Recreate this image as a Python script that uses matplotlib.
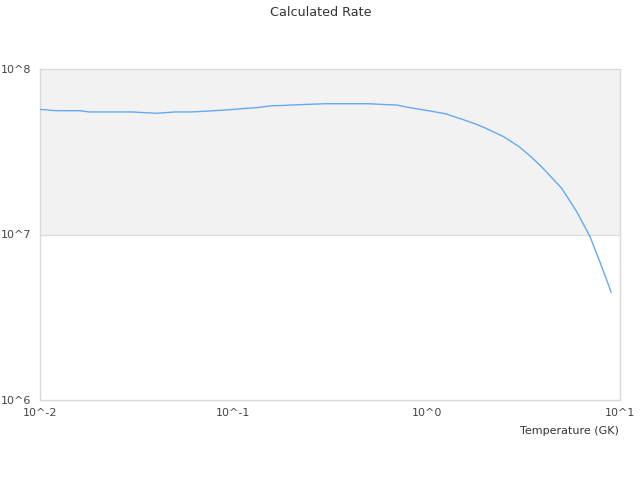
import matplotlib
matplotlib.use("Agg")
import matplotlib.pyplot as plt
from matplotlib.ticker import FixedLocator, FixedFormatter, NullLocator

# Data
temperature = [0.01, 0.011, 0.012, 0.013, 0.014, 0.015, 0.016, 0.018, 0.02, 0.025,
               0.03, 0.04, 0.05, 0.06, 0.07, 0.08, 0.09, 0.1, 0.11, 0.12,
               0.13, 0.14, 0.15, 0.16, 0.18, 0.2, 0.25, 0.3, 0.35, 0.4,
               0.45, 0.5, 0.6, 0.7, 0.8, 0.9, 1.0, 1.25, 1.5, 1.75,
               2.0, 2.5, 3.0, 3.5, 4.0, 5.0, 6.0, 7.0, 8.0, 9.0]
rate = [5.7e7, 5.65e7, 5.6e7, 5.6e7, 5.6e7, 5.6e7, 5.6e7, 5.5e7, 5.5e7, 5.5e7,
        5.5e7, 5.4e7, 5.5e7, 5.5e7, 5.55e7, 5.6e7, 5.65e7, 5.7e7, 5.75e7, 5.8e7,
        5.83e7, 5.89e7, 5.95e7, 6.0e7, 6.02e7, 6.06e7, 6.12e7, 6.17e7, 6.17e7, 6.17e7,
        6.17e7, 6.17e7, 6.1e7, 6.06e7, 5.87e7, 5.73e7, 5.62e7, 5.37e7, 5.0e7, 4.7e7,
        4.41e7, 3.9e7, 3.4e7, 2.92e7, 2.51e7, 1.9e7, 1.36e7, 9.7e6, 6.5e6, 4.48e6]

x_ticks = [0.01, 0.1, 1, 10]
x_labels = ["10^-2", "10^-1", "10^0", "10^1"]
y_ticks = [1e6, 1e7, 1e8]
y_labels = ["10^6", "10^7", "10^8"]

title = "Calculated Rate"
x_title = "Temperature (GK)"

plt.rcParams['font.family'] = ['DejaVu Sans']
fig = plt.figure(figsize=(6.4, 4.8), dpi=100)
ax = fig.add_axes([40/640, 80/480, 580/640, 331/480])

ax.set_xscale('log')
ax.set_yscale('log')
ax.set_xlim(x_ticks[0], x_ticks[-1])
ax.set_ylim(y_ticks[0], y_ticks[-1])

# alternating band
ax.axhspan(y_ticks[1], y_ticks[2], color='#f2f2f2', zorder=0, lw=0)
ax.axhline(y_ticks[1], color='#dddddd', lw=1, zorder=1)

ax.plot(temperature, rate, color='#62aaf2', lw=1, zorder=3)

ax.xaxis.set_major_locator(FixedLocator(x_ticks))
ax.xaxis.set_major_formatter(FixedFormatter(x_labels))
ax.yaxis.set_major_locator(FixedLocator(y_ticks))
ax.yaxis.set_major_formatter(FixedFormatter(y_labels))
ax.xaxis.set_minor_locator(NullLocator())
ax.yaxis.set_minor_locator(NullLocator())
ax.tick_params(axis='both', length=0, labelsize=8, colors='#444444')
ax.tick_params(axis='x', pad=6)
ax.tick_params(axis='y', pad=6.5)

for s in ax.spines.values():
    s.set_color('#d9d9d9')
    s.set_linewidth(1)

fig.text(321/640, 1 - 12/480, title, ha='center', va='center', fontsize=9.2, color='#333333')
fig.text(619/640, 1 - 431/480, x_title, ha='right', va='center', fontsize=8, color='#333333')

fig.savefig('out.png', dpi=100)
